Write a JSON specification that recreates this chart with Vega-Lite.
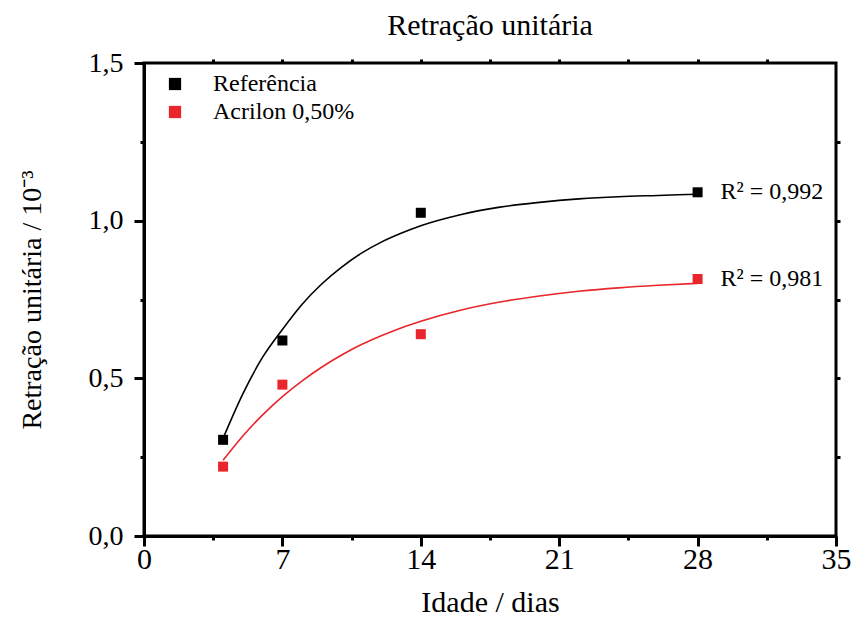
{
  "$schema": "https://vega.github.io/schema/vega-lite/v6.json",
  "width": 692,
  "height": 473,
  "autosize": {"type": "none"},
  "padding": {"left": 144, "top": 63, "right": 17, "bottom": 85},
  "background": "white",
  "config": {
    "view": {"stroke": "black", "strokeWidth": 3},
    "font": "Liberation Serif",
    "style": {"guide-label": {"font": "Liberation Serif"}, "guide-title": {"font": "Liberation Serif"}},
    "axis": {"grid": false, "labelFlush": false, "domainColor": "black", "domainWidth": 3, "tickColor": "black", "tickWidth": 3, "labelColor": "black", "titleColor": "black", "labelFont": "Liberation Serif", "titleFont": "Liberation Serif", "titleFontWeight": "normal"}
  },
  "title": {"text": "Retração unitária", "font": "Liberation Serif", "fontSize": 30, "fontWeight": "normal", "color": "black", "offset": 8, "anchor": "middle"},
  "datasets": {
    "points": [
      {"dias": 4, "retracao": 0.305, "serie": "Referência"},
      {"dias": 7, "retracao": 0.62, "serie": "Referência"},
      {"dias": 14, "retracao": 1.025, "serie": "Referência"},
      {"dias": 28, "retracao": 1.09, "serie": "Referência"},
      {"dias": 4, "retracao": 0.22, "serie": "Acrilon 0,50%"},
      {"dias": 7, "retracao": 0.48, "serie": "Acrilon 0,50%"},
      {"dias": 14, "retracao": 0.64, "serie": "Acrilon 0,50%"},
      {"dias": 28, "retracao": 0.815, "serie": "Acrilon 0,50%"}
    ],
    "fit": [
      {"dias": 4, "ajuste": 0.310, "serie": "Referência"},
      {"dias": 5, "ajuste": 0.451, "serie": "Referência"},
      {"dias": 6, "ajuste": 0.567, "serie": "Referência"},
      {"dias": 7, "ajuste": 0.655, "serie": "Referência"},
      {"dias": 8, "ajuste": 0.735, "serie": "Referência"},
      {"dias": 9, "ajuste": 0.800, "serie": "Referência"},
      {"dias": 10, "ajuste": 0.853, "serie": "Referência"},
      {"dias": 11, "ajuste": 0.897, "serie": "Referência"},
      {"dias": 12, "ajuste": 0.932, "serie": "Referência"},
      {"dias": 13, "ajuste": 0.960, "serie": "Referência"},
      {"dias": 14, "ajuste": 0.984, "serie": "Referência"},
      {"dias": 16, "ajuste": 1.019, "serie": "Referência"},
      {"dias": 18, "ajuste": 1.043, "serie": "Referência"},
      {"dias": 20, "ajuste": 1.058, "serie": "Referência"},
      {"dias": 22, "ajuste": 1.069, "serie": "Referência"},
      {"dias": 24, "ajuste": 1.076, "serie": "Referência"},
      {"dias": 26, "ajuste": 1.080, "serie": "Referência"},
      {"dias": 28, "ajuste": 1.084, "serie": "Referência"},
      {"dias": 4, "ajuste": 0.240, "serie": "Acrilon 0,50%"},
      {"dias": 5, "ajuste": 0.317, "serie": "Acrilon 0,50%"},
      {"dias": 6, "ajuste": 0.384, "serie": "Acrilon 0,50%"},
      {"dias": 7, "ajuste": 0.442, "serie": "Acrilon 0,50%"},
      {"dias": 8, "ajuste": 0.492, "serie": "Acrilon 0,50%"},
      {"dias": 9, "ajuste": 0.536, "serie": "Acrilon 0,50%"},
      {"dias": 10, "ajuste": 0.574, "serie": "Acrilon 0,50%"},
      {"dias": 11, "ajuste": 0.607, "serie": "Acrilon 0,50%"},
      {"dias": 12, "ajuste": 0.635, "serie": "Acrilon 0,50%"},
      {"dias": 13, "ajuste": 0.660, "serie": "Acrilon 0,50%"},
      {"dias": 14, "ajuste": 0.681, "serie": "Acrilon 0,50%"},
      {"dias": 16, "ajuste": 0.716, "serie": "Acrilon 0,50%"},
      {"dias": 18, "ajuste": 0.742, "serie": "Acrilon 0,50%"},
      {"dias": 20, "ajuste": 0.761, "serie": "Acrilon 0,50%"},
      {"dias": 22, "ajuste": 0.776, "serie": "Acrilon 0,50%"},
      {"dias": 24, "ajuste": 0.787, "serie": "Acrilon 0,50%"},
      {"dias": 26, "ajuste": 0.795, "serie": "Acrilon 0,50%"},
      {"dias": 28, "ajuste": 0.801, "serie": "Acrilon 0,50%"}
    ],
    "r2": [
      {"dias": 28, "retracao": 1.09, "rotulo": "R² = 0,992"},
      {"dias": 28, "retracao": 0.815, "rotulo": "R² = 0,981"}
    ]
  },
  "resolve": {"axis": {"x": "independent", "y": "independent"}},
  "layer": [
    {
      "data": {"name": "points"},
      "mark": {"type": "square", "size": 100, "opacity": 1, "filled": true},
      "encoding": {
        "x": {"field": "dias", "type": "quantitative", "scale": {"domain": [0, 35], "nice": false},
          "axis": {"orient": "bottom", "values": [0, 3.5, 7, 10.5, 14, 17.5, 21, 24.5, 28, 31.5, 35], "labelExpr": "datum.value % 7 === 0 ? datum.value : ''", "labelFont": "Liberation Serif", "labelFontSize": 30, "labelPadding": -2, "labelFlush": false, "tickSize": {"condition": {"test": "datum.value % 7 !== 0", "value": 4}, "value": 10}, "title": "Idade / dias", "titleFont": "Liberation Serif", "titleFontSize": 30, "titlePadding": 13}},
        "y": {"field": "retracao", "type": "quantitative", "scale": {"domain": [0, 1.5], "nice": false},
          "axis": {"orient": "left", "values": [0, 0.25, 0.5, 0.75, 1, 1.25, 1.5], "labelExpr": "(datum.value * 2) % 1 === 0 ? replace(format(datum.value, '.1f'), '.', ',') : ''", "labelFont": "Liberation Serif", "labelFontSize": 28, "labelPadding": 11, "labelFlush": false, "tickSize": {"condition": {"test": "(datum.value * 2) % 1 !== 0", "value": 4}, "value": 10}, "title": "Retração unitária / 10⁻³", "titleFont": "Liberation Serif", "titleFontSize": 28, "titlePadding": 42}},
        "color": {"field": "serie", "type": "nominal", "scale": {"domain": ["Referência", "Acrilon 0,50%"], "range": ["#000000", "#e8262b"]},
          "legend": {"orient": "none", "legendX": 19, "legendY": 9, "padding": 0, "title": null, "symbolType": "square", "symbolSize": 150, "symbolStrokeWidth": 0, "labelFontSize": 24, "labelFont": "Liberation Serif", "labelColor": "black", "labelOffset": 26, "rowPadding": 4}}
      }
    },
    {
      "data": {"name": "fit"},
      "mark": {"type": "line", "strokeWidth": 1.6, "interpolate": "monotone"},
      "encoding": {
        "x": {"field": "dias", "type": "quantitative", "axis": {"orient": "top", "values": [3.5, 7, 10.5, 14, 17.5, 21, 24.5, 28, 31.5], "labels": false, "tickSize": 4, "title": null, "domain": false}},
        "y": {"field": "ajuste", "type": "quantitative", "axis": {"orient": "right", "values": [0.25, 0.5, 0.75, 1, 1.25], "labels": false, "tickSize": 4, "title": null, "domain": false}},
        "color": {"field": "serie", "type": "nominal"},
        "detail": {"field": "serie"}
      }
    },
    {
      "data": {"name": "r2"},
      "mark": {"type": "text", "align": "left", "baseline": "middle", "dx": 23, "fontSize": 24, "font": "Liberation Serif", "color": "black"},
      "encoding": {
        "x": {"field": "dias", "type": "quantitative", "axis": null},
        "y": {"field": "retracao", "type": "quantitative", "axis": null},
        "text": {"field": "rotulo"}
      }
    }
  ]
}
